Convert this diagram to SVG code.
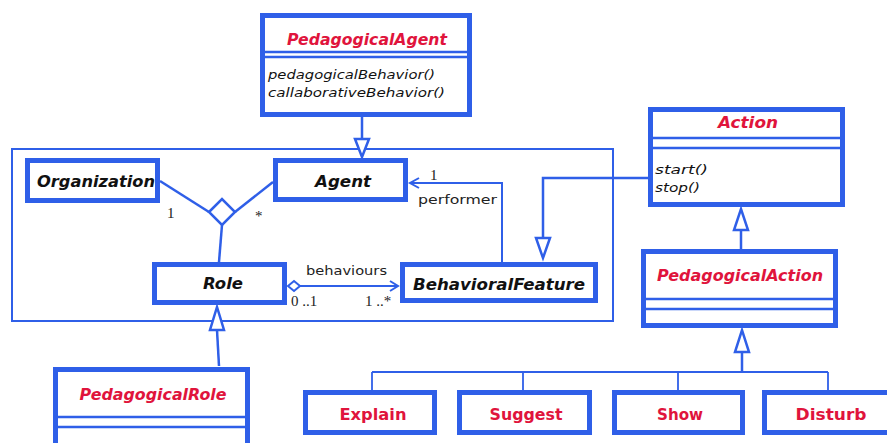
<svg xmlns="http://www.w3.org/2000/svg" width="887" height="443" viewBox="0 0 887 443">
  <style>
    .box { fill: #ffffff; stroke: #2f5fe8; stroke-width: 5; }
    .div { stroke: #2f5fe8; stroke-width: 2.5; fill: none; }
    .ln { stroke: #2f5fe8; stroke-width: 2.5; fill: none; }
    .mid { stroke: #2f5fe8; stroke-width: 2; fill: none; }
    .thin { stroke: #2f5fe8; stroke-width: 1.8; fill: none; }
    .pkg { stroke: #2f5fe8; stroke-width: 2; fill: none; }
    .tri { fill: #ffffff; stroke: #2f5fe8; stroke-width: 2.5; stroke-linejoin: miter; }
    .title { font-family: "DejaVu Sans", sans-serif; font-weight: bold; font-style: italic; font-size: 16px; text-anchor: middle; }
    .abs { fill: #111111; }
    .red { fill: #e0143c; }
    .plain { font-family: "DejaVu Sans", sans-serif; font-weight: bold; font-size: 16px; text-anchor: middle; fill: #e0143c; }
    .op { font-family: "DejaVu Sans", sans-serif; font-style: italic; font-size: 12.5px; fill: #111111; }
    .lbl { font-family: "DejaVu Sans", sans-serif; font-size: 13px; fill: #222222; }
    .mult { font-family: "Liberation Serif", serif; font-size: 15px; fill: #222222; }
  </style>

  <!-- package frame -->
  <rect class="pkg" x="12" y="149" width="601" height="172"/>

  <g id="connectors">
    <!-- PedagogicalAgent generalizes to Agent -->
    <line class="ln" x1="362" y1="117" x2="362" y2="139"/>
    <polygon class="tri" points="355,139 369,139 362,157"/>

    <!-- ternary association Organization / Agent / Role -->
    <line class="ln" x1="160" y1="181" x2="209" y2="212"/>
    <line class="ln" x1="273" y1="182" x2="235" y2="212"/>
    <line class="ln" x1="222" y1="225" x2="219" y2="262"/>
    <polygon class="tri" points="209,212 222,199 235,212 222,225"/>

    <!-- Role behaviours BehavioralFeature -->
    <line class="mid" x1="300" y1="286" x2="398" y2="286"/>
    <polygon class="tri" style="stroke-width:2" points="288,286 294,281 300,286 294,291"/>
    <polyline class="mid" points="390,281 398,286 390,291"/>

    <!-- BehavioralFeature performer Agent -->
    <polyline class="mid" points="502,262 502,183 410,183"/>
    <polyline class="mid" points="419,178 410,183 419,188"/>

    <!-- Action generalization into BehavioralFeature -->
    <polyline class="ln" points="648,178 543,178 543,238"/>
    <polygon class="tri" points="536,238 550,238 543,258"/>

    <!-- PedagogicalAction generalizes to Action -->
    <line class="ln" x1="741" y1="230" x2="741" y2="249"/>
    <polygon class="tri" points="734,230 748,230 741,209"/>

    <!-- PedagogicalRole generalizes to Role -->
    <line class="ln" x1="219" y1="366" x2="217" y2="330"/>
    <polygon class="tri" points="210,330 224,330 217,307"/>

    <!-- action subclasses to PedagogicalAction -->
    <line class="ln" x1="742" y1="372" x2="742" y2="352"/>
    <polygon class="tri" points="735,352 749,352 742,330"/>
    <line class="thin" x1="372" y1="372" x2="828" y2="372"/>
    <line class="thin" x1="372" y1="372" x2="372" y2="390"/>
    <line class="thin" x1="523" y1="372" x2="523" y2="390"/>
    <line class="thin" x1="678" y1="372" x2="678" y2="390"/>
    <line class="thin" x1="828" y1="372" x2="828" y2="390"/>
  </g>

  <!-- association labels -->
  <text class="mult" x="167" y="218">1</text>
  <text class="mult" x="255" y="221">*</text>
  <text class="lbl" x="306" y="275" textLength="81" lengthAdjust="spacingAndGlyphs">behaviours</text>
  <text class="mult" x="291" y="306">0 ..1</text>
  <text class="mult" x="365" y="306">1 ..*</text>
  <text class="mult" x="430" y="180">1</text>
  <text class="lbl" x="418" y="204" textLength="79" lengthAdjust="spacingAndGlyphs">performer</text>

  <g id="PedagogicalAgent">
    <rect class="box" x="262.5" y="15.5" width="207" height="99"/>
    <line class="div" x1="262" y1="52" x2="470" y2="52"/>
    <line class="div" x1="262" y1="57" x2="470" y2="57"/>
    <text class="title red" x="367" y="45" textLength="160" lengthAdjust="spacingAndGlyphs">PedagogicalAgent</text>
    <text class="op" x="268" y="79" textLength="167" lengthAdjust="spacingAndGlyphs">pedagogicalBehavior()</text>
    <text class="op" x="268" y="97" textLength="177" lengthAdjust="spacingAndGlyphs">callaborativeBehavior()</text>
  </g>

  <g id="Organization">
    <rect class="box" x="27.5" y="160.5" width="130" height="40"/>
    <text class="title abs" x="96" y="187" textLength="118" lengthAdjust="spacingAndGlyphs">Organization</text>
  </g>

  <g id="Agent">
    <rect class="box" x="275.5" y="160.5" width="130" height="39"/>
    <text class="title abs" x="343" y="187" textLength="56" lengthAdjust="spacingAndGlyphs">Agent</text>
  </g>

  <g id="Role">
    <rect class="box" x="154.5" y="264.5" width="130" height="38"/>
    <text class="title abs" x="223" y="289" textLength="40" lengthAdjust="spacingAndGlyphs">Role</text>
  </g>

  <g id="BehavioralFeature">
    <rect class="box" x="402.5" y="264.5" width="193" height="36"/>
    <text class="title abs" x="499" y="290" textLength="172" lengthAdjust="spacingAndGlyphs">BehavioralFeature</text>
  </g>

  <g id="Action">
    <rect class="box" x="650.5" y="109.5" width="192" height="95"/>
    <line class="div" x1="650" y1="138" x2="843" y2="138"/>
    <line class="div" x1="650" y1="148" x2="843" y2="148"/>
    <text class="title red" x="748" y="128" textLength="60" lengthAdjust="spacingAndGlyphs">Action</text>
    <text class="op" x="655" y="174" textLength="53" lengthAdjust="spacingAndGlyphs">start()</text>
    <text class="op" x="655" y="192" textLength="45" lengthAdjust="spacingAndGlyphs">stop()</text>
  </g>

  <g id="PedagogicalAction">
    <rect class="box" x="643.5" y="251.5" width="192" height="74"/>
    <line class="div" x1="643" y1="299" x2="836" y2="299"/>
    <line class="div" x1="643" y1="309" x2="836" y2="309"/>
    <text class="title red" x="740" y="281" textLength="166" lengthAdjust="spacingAndGlyphs">PedagogicalAction</text>
  </g>

  <g id="PedagogicalRole">
    <rect class="box" x="55.5" y="369.5" width="192" height="80"/>
    <line class="div" x1="55" y1="417" x2="248" y2="417"/>
    <line class="div" x1="55" y1="427" x2="248" y2="427"/>
    <text class="title red" x="153" y="400" textLength="147" lengthAdjust="spacingAndGlyphs">PedagogicalRole</text>
  </g>

  <g id="Explain">
    <rect class="box" x="305.5" y="392.5" width="129" height="40"/>
    <text class="plain" x="373" y="420" textLength="67" lengthAdjust="spacingAndGlyphs">Explain</text>
  </g>

  <g id="Suggest">
    <rect class="box" x="459.5" y="392.5" width="130" height="40"/>
    <text class="plain" x="526" y="420" textLength="73" lengthAdjust="spacingAndGlyphs">Suggest</text>
  </g>

  <g id="Show">
    <rect class="box" x="614.5" y="392.5" width="128" height="40"/>
    <text class="plain" x="680" y="420" textLength="46" lengthAdjust="spacingAndGlyphs">Show</text>
  </g>

  <g id="Disturb">
    <rect class="box" x="764.5" y="392.5" width="130" height="40"/>
    <text class="plain" x="831" y="420" textLength="71" lengthAdjust="spacingAndGlyphs">Disturb</text>
  </g>
</svg>
